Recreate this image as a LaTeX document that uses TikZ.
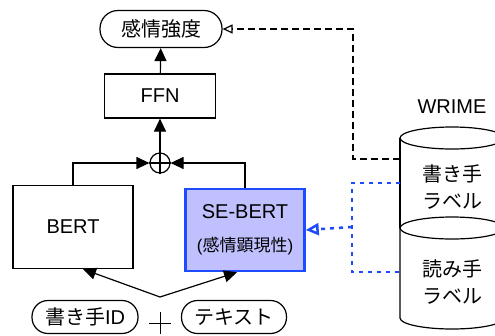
\documentclass[tikz,border=0pt]{standalone}
\usepackage{fontspec}
\setmainfont{Liberation Sans}
\newfontfamily\jp{Noto Sans CJK JP}
\usetikzlibrary{arrows.meta}
\definecolor{sefill}{HTML}{C0C0FF}
\definecolor{seline}{HTML}{1F4BFF}
\begin{document}
\begin{tikzpicture}[x=1pt, y=-1pt, line width=1.2pt,
	every node/.style={font=\fontsize{20}{24}\selectfont, inner sep=0pt},
	box/.style={draw, rectangle},
	pill/.style={draw, rectangle, rounded corners=16pt, minimum height=33pt},
	arr/.style={-{Triangle[length=13pt,width=12pt]}},
	wdash/.style={dash pattern=on 7pt off 4pt, -{Triangle[open,length=10pt,width=9pt]}},
	bdots/.style={seline, line width=2.5pt, dash pattern=on 4pt off 5pt}]
	\useasboundingbox (0,0) rectangle (495,335);
	\clip (0,0) rectangle (495,335);
	\node[pill, minimum width=122pt, minimum height=37pt, rounded corners=18pt] (out) at (161,29) {\jp 感情強度};
	\node[box, minimum width=111pt, minimum height=44pt] (ffn) at (160,96) {FFN};
	\node[draw, circle, minimum size=20pt] (sum) at (160,163) {};
	\draw (sum.north) -- (sum.south) (sum.west) -- (sum.east);
	\node[box, minimum width=120pt, minimum height=83pt] (bert) at (73,227) {BERT};
	\node[box, draw=seline, fill=sefill, line width=2.5pt, minimum width=119pt, minimum height=82pt,
		align=center, font=\fontsize{20}{33}\selectfont] (sebert) at (245,230)
		{SE-BERT\\{\fontsize{17}{20}\selectfont(\jp 感情顕現性\rmfamily)}};
	\node[pill, minimum width=106pt] (wid) at (85,317) {{\jp 書き手}ID};
	\node[pill, minimum width=105pt] (txt) at (234,317) {\jp テキスト};
	\node[minimum size=20pt] (plus) at (160,323) {};
	\draw[line width=1pt] (plus.north) -- (plus.south) (plus.west) -- (plus.east);
	\coordinate (split) at (160,297);
	% WRIME
	\node (wrime) at (452,107) {WRIME};
	\draw (400,138) -- (400,228) (504,138) -- (504,228);
	\draw (452,138) ellipse [x radius=52, y radius=11];
	\draw (452,228) ellipse [x radius=52, y radius=11];
	\draw (400,228) -- (400,318) arc[start angle=180, end angle=0, x radius=52, y radius=11] -- (504,228);
	\node[align=center, font=\fontsize{20}{27}\selectfont\jp] (wlab) at (452,187) {書き手\\ラベル};
	\node[align=center, font=\fontsize{20}{27}\selectfont\jp] (rlab) at (452,282) {読み手\\ラベル};
	\coordinate (wl) at (400,159);
	\coordinate (wb) at (400,183);
	\coordinate (rb) at (400,272);
	\coordinate (bm) at (352,227);
	\draw[arr] (ffn) -- (out);
	\draw[arr] (sum) -- (ffn);
	\draw[arr] (bert.north) |- (sum.west);
	\draw[arr] (sebert.north) |- (sum.east);
	\draw[arr] (split) -- ([xshift=10pt]bert.south);
	\draw[arr] (split) -- ([xshift=-8pt]sebert.south);
	\draw[wdash] (wl) -- ++(-47,0) |- (out.east);
	\draw[bdots] (wb) -- ++(-48,0) |- (rb);
	\draw[bdots, -{Triangle[open,length=13pt,width=12pt]}] (bm) -- (sebert.east);
\end{tikzpicture}
\end{document}
